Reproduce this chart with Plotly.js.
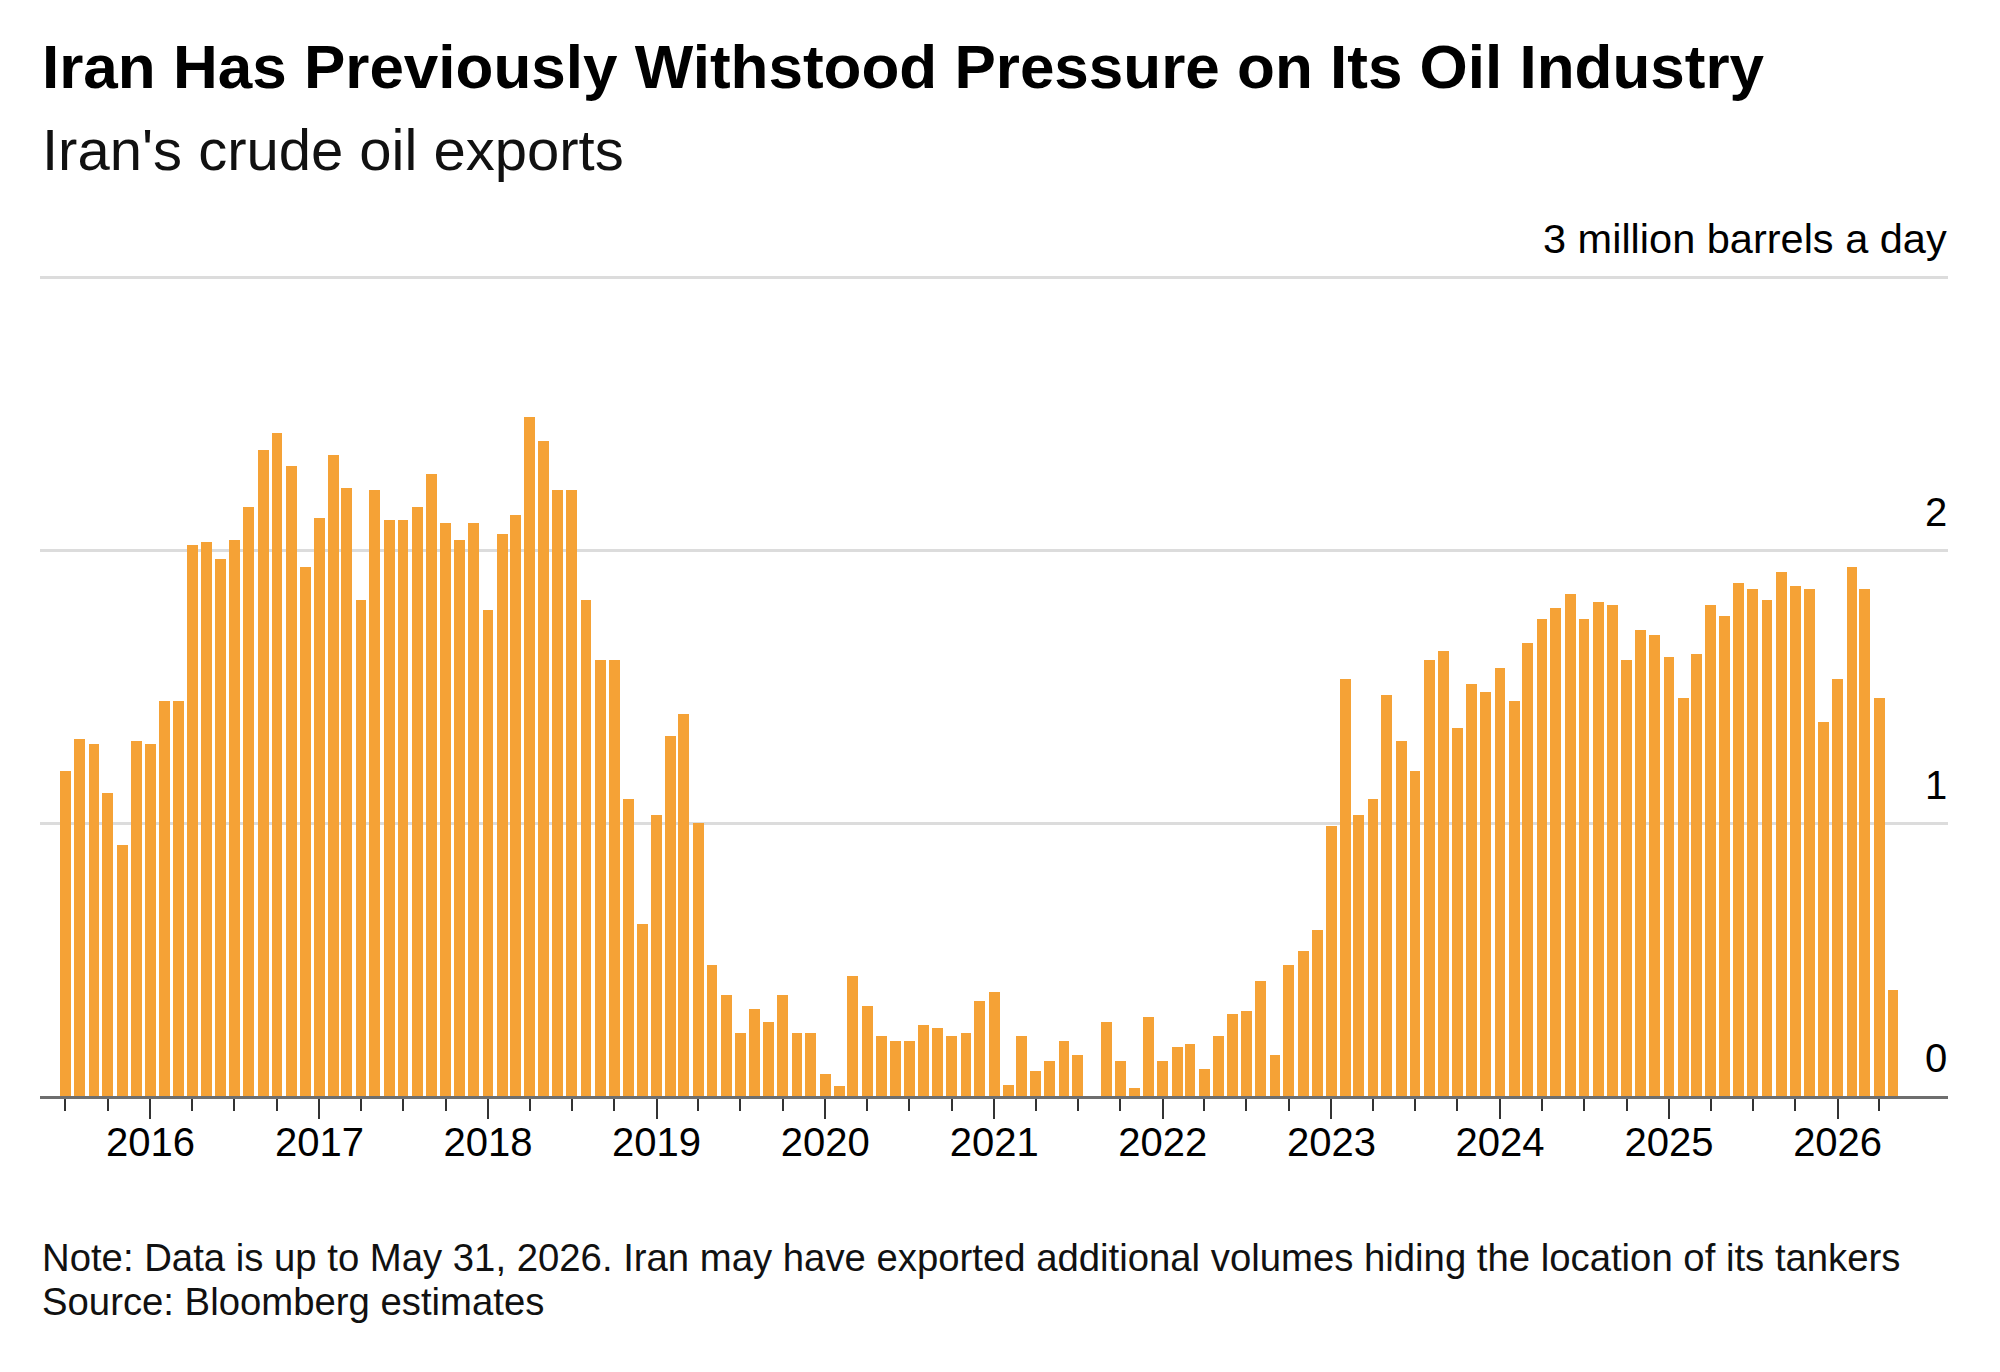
<!DOCTYPE html>
<html>
<head>
<meta charset="utf-8">
<script src="https://cdn.plot.ly/plotly-3.0.1.min.js"></script>
<style>
  html, body { margin: 0; padding: 0; background: #ffffff; }
  #chart { width: 2000px; height: 1372px; }
</style>
</head>
<body>
<div id="chart"></div>
<script>
// Iran's crude oil exports, million barrels a day (monthly)
const startYear = 2015;
const startMonth = 7; // July 2015
const exports2015 = [1.19, 1.31, 1.29, 1.11, 0.92, 1.30];
const exports2016 = [1.29, 1.45, 1.45, 2.02, 2.03, 1.97, 2.04, 2.16, 2.37, 2.43, 2.31, 1.94];
const exports2017 = [2.12, 2.35, 2.23, 1.82, 2.22, 2.11, 2.11, 2.16, 2.28, 2.10, 2.04, 2.10];
const exports2018 = [1.78, 2.06, 2.13, 2.49, 2.40, 2.22, 2.22, 1.82, 1.60, 1.60, 1.09, 0.63];
const exports2019 = [1.03, 1.32, 1.40, 1.00, 0.48, 0.37, 0.23, 0.32, 0.27, 0.37, 0.23, 0.23];
const exports2020 = [0.08, 0.035, 0.44, 0.33, 0.22, 0.20, 0.20, 0.26, 0.25, 0.22, 0.23, 0.35];
const exports2021 = [0.38, 0.04, 0.22, 0.09, 0.13, 0.20, 0.15, null, 0.27, 0.13, 0.03, 0.29];
const exports2022 = [0.13, 0.18, 0.19, 0.10, 0.22, 0.30, 0.31, 0.42, 0.15, 0.48, 0.53, 0.61];
const exports2023 = [0.99, 1.53, 1.03, 1.09, 1.47, 1.30, 1.19, 1.60, 1.63, 1.35, 1.51, 1.48];
const exports2024 = [1.57, 1.45, 1.66, 1.75, 1.79, 1.84, 1.75, 1.81, 1.80, 1.60, 1.71, 1.69];
const exports2025 = [1.61, 1.46, 1.62, 1.80, 1.76, 1.88, 1.86, 1.82, 1.92, 1.87, 1.86, 1.37];
const exports2026 = [1.53, 1.94, 1.86, 1.46, 0.39];

const yTickVals = [0, 1, 2, 3];
const yTickText = ['0', '1', '2', '3 million barrels a day'];

const titleText = 'Iran Has Previously Withstood Pressure on Its Oil Industry';
const subtitleText = "Iran's crude oil exports";
const noteText = 'Note: Data is up to May 31, 2026. Iran may have exported additional volumes hiding the location of its tankers';
const sourceText = 'Source: Bloomberg estimates';

const allValues = [].concat(exports2015, exports2016, exports2017, exports2018,
  exports2019, exports2020, exports2021, exports2022, exports2023, exports2024,
  exports2025, exports2026);

function monthDate(i) {
  const m0 = (startMonth - 1) + i;
  const y = startYear + Math.floor(m0 / 12);
  const m = (m0 % 12) + 1;
  return y + '-' + String(m).padStart(2, '0') + '-01';
}
const months = allValues.map((v, i) => monthDate(i));
// quarterly minor ticks across the data span
const quarterTicks = months.filter((d, i) => ((startMonth - 1 + i) % 3) === 0);

const FONT = 'Liberation Sans, Arial, Helvetica, sans-serif';
const DAY = 86400000;

const trace = {
  type: 'bar',
  x: months,
  y: allValues,
  width: months.map(() => 23.5 * DAY),
  marker: { color: '#F5A236', line: { width: 0 } },
  hoverinfo: 'x+y'
};

const yLabelAnnotations = yTickVals.map((v, i) => ({
  text: yTickText[i], xref: 'paper', yref: 'y', x: 1, y: v,
  xanchor: 'right', yanchor: 'bottom', yshift: 15, borderpad: 0,
  showarrow: false, font: { family: FONT, size: i === 3 ? 41.5 : 40, color: '#000000' }
}));

const layout = {
  width: 2000,
  height: 1372,
  margin: { l: 40, r: 52, t: 275, b: 276, pad: 0 },
  paper_bgcolor: '#ffffff',
  plot_bgcolor: '#ffffff',
  showlegend: false,
  font: { family: FONT, color: '#000000', size: 40 },
  xaxis: {
    type: 'date',
    range: ['2015-05-07', '2026-08-28'],
    tickmode: 'linear',
    tick0: '2016-01-01',
    dtick: 'M12',
    tickformat: '%Y',
    ticks: 'outside',
    ticklen: 20,
    tickwidth: 2,
    tickcolor: '#333333',
    ticklabelstandoff: -11,
    minor: { tickmode: 'array', tickvals: quarterTicks, ticks: 'outside', ticklen: 12, tickwidth: 2, tickcolor: '#333333', showgrid: false },
    showgrid: false,
    zeroline: false,
    showline: true,
    linecolor: '#6e6e6e',
    linewidth: 3,
    tickfont: { family: FONT, size: 40, color: '#000000' },
    fixedrange: true
  },
  yaxis: {
    range: [0, 3.01],
    tickmode: 'array',
    tickvals: yTickVals,
    showticklabels: false,
    ticks: '',
    showgrid: true,
    gridcolor: '#dcdcdc',
    gridwidth: 3,
    zeroline: false,
    showline: false,
    fixedrange: true
  },
  bargap: 0,
  annotations: [
    { text: '<b>' + titleText + '</b>', xref: 'paper', yref: 'paper', x: 0, y: 1.2538, xanchor: 'left', yanchor: 'middle', showarrow: false, font: { family: FONT, size: 62, color: '#000000' } },
    { text: subtitleText, xref: 'paper', yref: 'paper', x: 0, y: 1.1524, xanchor: 'left', yanchor: 'middle', showarrow: false, font: { family: FONT, size: 58, color: '#111111' } },
    { text: noteText, xref: 'paper', yref: 'paper', x: 0, y: -0.1967, xanchor: 'left', yanchor: 'middle', showarrow: false, font: { family: FONT, size: 38.3, color: '#111111' } },
    { text: sourceText, xref: 'paper', yref: 'paper', x: 0, y: -0.2505, xanchor: 'left', yanchor: 'middle', showarrow: false, font: { family: FONT, size: 38.3, color: '#111111' } }
  ].concat(yLabelAnnotations)
};

Plotly.newPlot('chart', [trace], layout, { displayModeBar: false, staticPlot: true });
</script>
</body>
</html>
